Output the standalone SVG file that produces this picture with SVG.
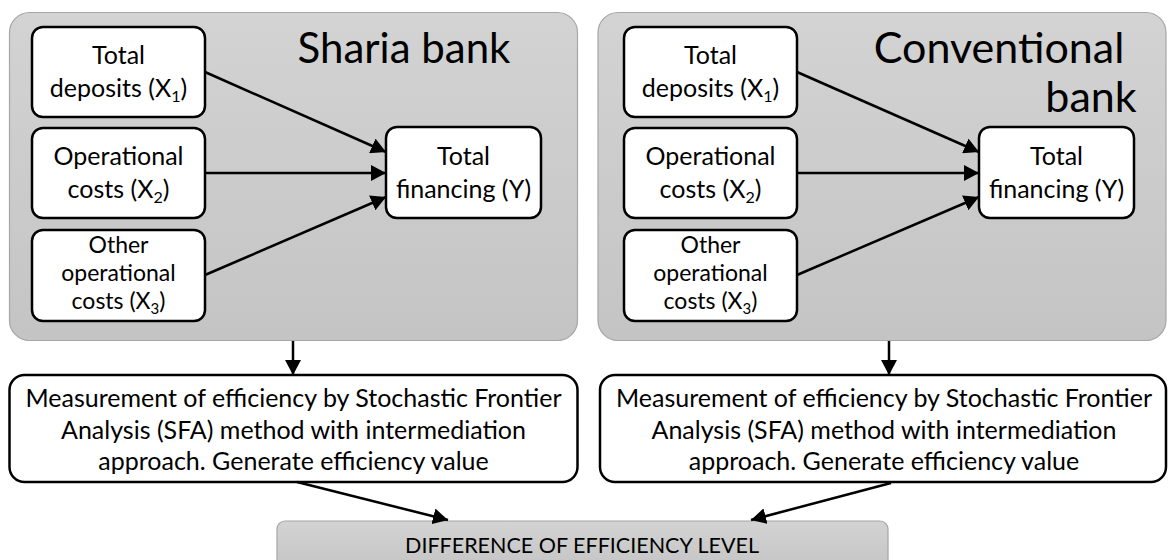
<svg xmlns="http://www.w3.org/2000/svg" width="1169" height="560" viewBox="0 0 1169 560">
<style>
.panel{fill:url(#g);stroke:#a6a6a6;stroke-width:1.2}
.box{fill:#fff;stroke:#000;stroke-width:2.5}
.t{font-family:Lato,"Liberation Sans",sans-serif;font-size:25px;fill:#000;text-anchor:middle}
.t3{font-family:Lato,"Liberation Sans",sans-serif;font-size:23px;fill:#000;text-anchor:middle}
.title{font-family:Lato,"Liberation Sans",sans-serif;font-size:42px;fill:#000;text-anchor:middle}
.ct{font-family:Lato,"Liberation Sans",sans-serif;font-size:43px;fill:#000;text-anchor:middle}
.m{font-family:Lato,"Liberation Sans",sans-serif;font-size:25px;fill:#000;text-anchor:middle}
.d{font-family:Lato,"Liberation Sans",sans-serif;font-size:21.5px;fill:#000;text-anchor:middle}
.c{stroke:#000;stroke-width:2.5;fill:none;marker-end:url(#a)}
</style>
<defs>
<linearGradient id="g" x1="0" y1="0" x2="0" y2="1">
<stop offset="0" stop-color="#d3d3d3"/>
<stop offset="1" stop-color="#c4c4c4"/>
</linearGradient>
<marker id="a" markerUnits="userSpaceOnUse" markerWidth="16" markerHeight="16" refX="15" refY="8" orient="auto">
<path d="M0,0 L15,8 L0,16 z" fill="#000"/>
</marker>
</defs>

<g id="sharia-panel">
<rect class="panel" x="9.5" y="12.5" width="568" height="328" rx="20"/>
<text class="title" x="404" y="63">Sharia bank</text>
</g>
<g id="conventional-panel">
<rect class="panel" x="598" y="12.5" width="568" height="328" rx="20"/>
<text class="ct" x="999" y="63">Conventional</text>
<text class="ct" x="1091" y="112">bank</text>
</g>

<g id="s-x1"><rect class="box" x="32" y="27" width="173" height="90" rx="11"/>
<text class="t" x="118.5" y="64">Total</text>
<text class="t" x="118.5" y="97">deposits (X<tspan font-size="16" dy="5">1</tspan><tspan dy="-5">)</tspan></text></g>
<g id="s-x2"><rect class="box" x="32" y="128" width="173" height="90" rx="11"/>
<text class="t" x="118.5" y="165">Operational</text>
<text class="t" x="118.5" y="198">costs (X<tspan font-size="16" dy="5">2</tspan><tspan dy="-5">)</tspan></text></g>
<g id="s-x3"><rect class="box" x="32" y="230" width="173" height="91" rx="11"/>
<text class="t3" x="118.5" y="253">Other</text>
<text class="t3" x="118.5" y="281">operational</text>
<text class="t3" x="118.5" y="309">costs (X<tspan font-size="15" dy="5">3</tspan><tspan dy="-5">)</tspan></text></g>
<g id="s-y"><rect class="box" x="386" y="127" width="155" height="91" rx="11"/>
<text class="t" x="463.5" y="165">Total</text>
<text class="t" x="463.5" y="198">financing (Y)</text></g>

<g id="c-x1"><rect class="box" x="624" y="27" width="173" height="90" rx="11"/>
<text class="t" x="710.5" y="64">Total</text>
<text class="t" x="710.5" y="97">deposits (X<tspan font-size="16" dy="5">1</tspan><tspan dy="-5">)</tspan></text></g>
<g id="c-x2"><rect class="box" x="624" y="128" width="173" height="90" rx="11"/>
<text class="t" x="710.5" y="165">Operational</text>
<text class="t" x="710.5" y="198">costs (X<tspan font-size="16" dy="5">2</tspan><tspan dy="-5">)</tspan></text></g>
<g id="c-x3"><rect class="box" x="624" y="230" width="173" height="91" rx="11"/>
<text class="t3" x="710.5" y="253">Other</text>
<text class="t3" x="710.5" y="281">operational</text>
<text class="t3" x="710.5" y="309">costs (X<tspan font-size="15" dy="5">3</tspan><tspan dy="-5">)</tspan></text></g>
<g id="c-y"><rect class="box" x="979" y="127" width="155" height="91" rx="11"/>
<text class="t" x="1056.5" y="165">Total</text>
<text class="t" x="1056.5" y="198">financing (Y)</text></g>

<g id="s-sfa"><rect class="box" x="9.5" y="375" width="568" height="107" rx="15"/>
<text class="m" x="293.5" y="407">Measurement of efficiency by Stochastic Frontier</text>
<text class="m" x="293.5" y="439">Analysis (SFA) method with intermediation</text>
<text class="m" x="293.5" y="470">approach. Generate efficiency value</text></g>
<g id="c-sfa"><rect class="box" x="600" y="375" width="566" height="107" rx="15"/>
<text class="m" x="884" y="407">Measurement of efficiency by Stochastic Frontier</text>
<text class="m" x="884" y="439">Analysis (SFA) method with intermediation</text>
<text class="m" x="884" y="470">approach. Generate efficiency value</text></g>

<g id="difference"><rect x="277" y="521" width="611" height="50" rx="8" fill="url(#g)" stroke="#a6a6a6" stroke-width="1.2"/>
<text class="d" x="582" y="553">DIFFERENCE OF EFFICIENCY LEVEL</text></g>

<g id="connectors">
<line class="c" x1="205" y1="72" x2="386" y2="152"/>
<line class="c" x1="205" y1="173" x2="386" y2="173"/>
<line class="c" x1="205" y1="275" x2="386" y2="197"/>
<line class="c" x1="797" y1="72" x2="979" y2="152"/>
<line class="c" x1="797" y1="173" x2="979" y2="173"/>
<line class="c" x1="797" y1="275" x2="979" y2="197"/>
<line class="c" x1="293" y1="341" x2="293" y2="375"/>
<line class="c" x1="889" y1="341" x2="889" y2="375"/>
<line class="c" x1="297" y1="482" x2="448" y2="520"/>
<line class="c" x1="891" y1="483" x2="751" y2="520"/>
</g>
</svg>
